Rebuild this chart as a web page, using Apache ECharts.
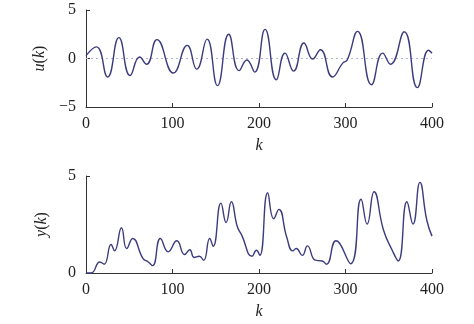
<!DOCTYPE html>
<html>
<head>
<meta charset="utf-8">
<script src="https://cdn.jsdelivr.net/npm/echarts@6/dist/echarts.min.js"></script>
<style>
  html, body { margin: 0; padding: 0; background: #fff; }
  #main { width: 474px; height: 324px; }
</style>
</head>
<body>
<div id="main"></div>
<script>
// u(k), peaks and troughs
var uK = [0, 12, 25, 38, 51, 62, 70, 82, 101, 117, 128, 140, 152, 165, 177, 186, 195, 207, 220, 230, 240, 252, 262, 271, 285, 297, 302, 314, 330, 343, 352, 368, 383, 396, 400];
var uVal = [0.3, 1.2, -1.9, 2.15, -1.75, 0.15, -0.6, 1.95, -1.5, 1.35, -1.1, 2.0, -2.8, 2.5, -1.25, -0.15, -1.4, 3.0, -2.2, 0.55, -1.3, 1.6, -0.05, 0.9, -1.9, -0.45, -0.15, 2.8, -2.7, 0.55, -0.6, 2.75, -3.0, 0.85, 0.55];

// y(k)
var yK = [0, 6, 16, 21, 29, 33, 41, 47, 54, 66, 72, 77, 86, 95, 105, 114, 120, 125, 131, 136, 143, 147, 156, 162, 168, 175, 180, 192, 197, 201, 210, 217, 223, 232, 239, 243, 250, 256, 265, 273, 278, 289, 306, 318, 325, 333, 344, 354, 361, 371, 378, 386, 394, 400];
var yVal = [0, 0, 0.57, 0.45, 1.47, 1.14, 2.33, 1.26, 1.78, 0.74, 0.57, 0.38, 1.78, 1.09, 1.66, 0.95, 1.2, 0.8, 0.86, 0.65, 1.78, 1.38, 3.6, 2.6, 3.67, 2.38, 1.95, 0.86, 1.17, 0.91, 4.14, 2.8, 3.28, 1.86, 1.14, 1.26, 0.91, 1.4, 0.66, 0.62, 0.45, 1.66, 0.48, 3.8, 2.52, 4.19, 2.2, 1.17, 0.62, 3.67, 2.52, 4.67, 2.72, 1.9];

var kTicks = [0, 100, 200, 300, 400];
// dotted reference line u = 0
var zeroLine = [[0, 0], [400, 0]];

function pairs(xs, vs) {
    var out = [];
    for (var i = 0; i < xs.length; i++) out.push([xs[i], vs[i]]);
    return out;
}

var myChart = echarts.init(document.getElementById('main'));
var font = 'Liberation Serif';
var axisCol = '#333';
var lineCol = '#3b3b7e';

function xAxisOf(idx) {
    return {
        type: 'value', gridIndex: idx, min: kTicks[0], max: kTicks[kTicks.length - 1], interval: 100,
        name: 'k', nameLocation: 'middle', nameGap: 31,
        nameTextStyle: { fontFamily: font, fontSize: 16, fontStyle: 'italic', color: '#222' },
        axisLine: { show: true, onZero: false, lineStyle: { color: axisCol, width: 1 } },
        axisTick: { show: true, inside: true, length: 4, lineStyle: { color: axisCol } },
        axisLabel: { fontFamily: font, fontSize: 16, color: '#222', margin: 9 },
        splitLine: { show: false }
    };
}

function yAxisOf(idx, min, max, nm) {
    return {
        type: 'value', gridIndex: idx, min: min, max: max, interval: 5,
        name: '{i|' + nm + '}({i|k})', nameLocation: 'middle', nameGap: 36, nameRotate: 90,
        nameTextStyle: {
            fontFamily: font, fontSize: 16, color: '#222',
            rich: { i: { fontFamily: font, fontSize: 16, fontStyle: 'italic', color: '#222' } }
        },
        axisLine: { show: true, onZero: false, lineStyle: { color: axisCol, width: 1 } },
        axisTick: { show: true, inside: true, length: 4, lineStyle: { color: axisCol } },
        axisLabel: {
            fontFamily: font, fontSize: 16, color: '#222', margin: 10,
            formatter: function (v) { return v < 0 ? '\u2212' + (-v) : String(v); }
        },
        splitLine: { show: false }
    };
}

option = {
    animation: false,
    grid: [
        { left: 86, right: 42, top: 10, height: 97 },
        { left: 86, right: 42, top: 176, height: 97 }
    ],
    xAxis: [xAxisOf(0), xAxisOf(1)],
    yAxis: [yAxisOf(0, -5, 5, 'u'), yAxisOf(1, 0, 5, 'y')],
    series: [
        {
            type: 'line', xAxisIndex: 0, yAxisIndex: 0,
            data: zeroLine, symbol: 'none', silent: true,
            lineStyle: { color: '#b4b4d4', type: [2, 3], width: 1 },
            z: 1
        },
        {
            type: 'line', xAxisIndex: 0, yAxisIndex: 0,
            data: pairs(uK, uVal), smooth: 0.5, symbol: 'none',
            lineStyle: { color: lineCol, width: 1.4 },
            z: 3
        },
        {
            type: 'line', xAxisIndex: 1, yAxisIndex: 1,
            data: pairs(yK, yVal), smooth: 0.5, symbol: 'none',
            lineStyle: { color: lineCol, width: 1.4 }
        }
    ]
};
myChart.setOption(option);
</script>
</body>
</html>
